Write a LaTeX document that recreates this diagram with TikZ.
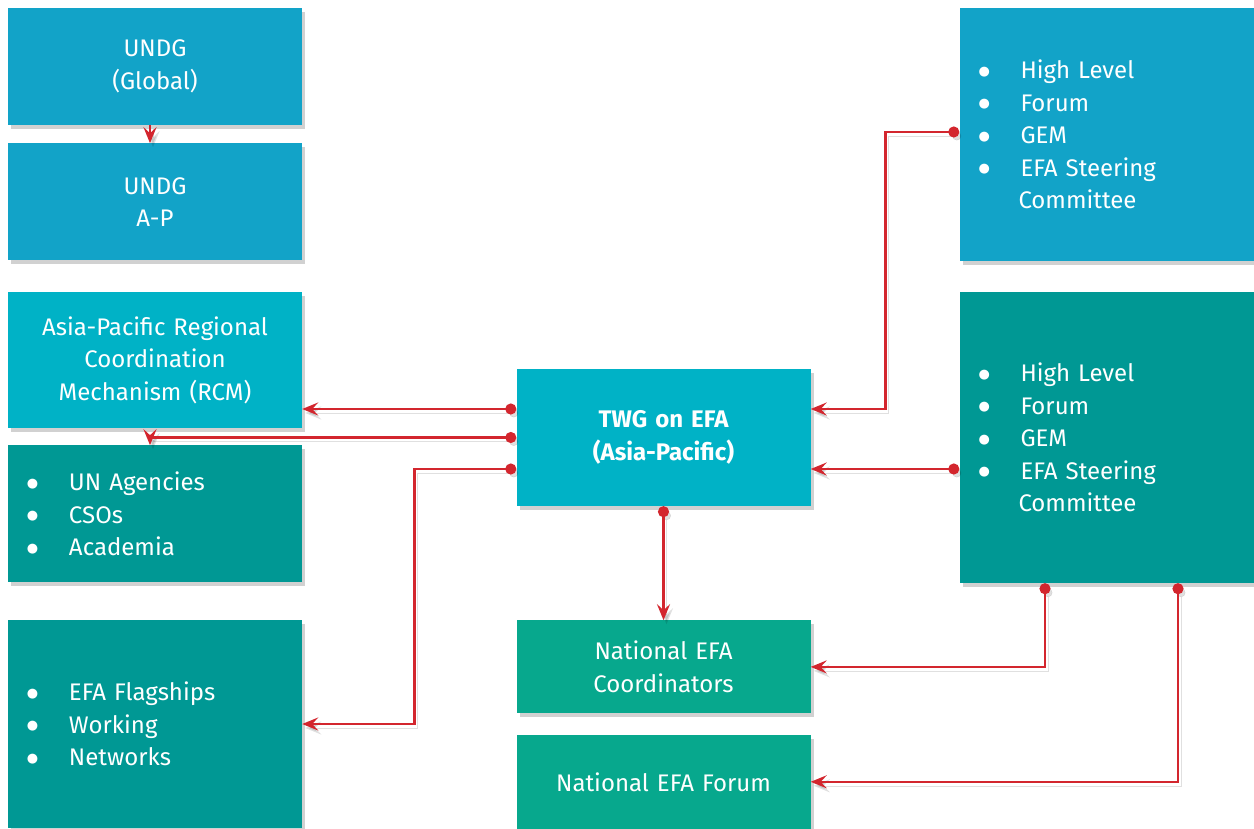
\documentclass[tikz,border=0pt]{standalone}
\usepackage{fontspec}
\setmainfont{Fira Sans}
\newfontfamily\dotfont{DejaVu Sans}
\usepackage{tikz}
\usetikzlibrary{arrows.meta, positioning, shadows}
\definecolor{undgblue}{HTML}{12A3C8}
\definecolor{twgcyan}{HTML}{00B2C6}
\definecolor{darkteal}{HTML}{009894}
\definecolor{natgreen}{HTML}{07A88D}
\definecolor{linkred}{HTML}{D3262E}
\newcommand{\itm}[1]{\makebox[42pt][l]{\raisebox{3.5pt}{\dotfont\fontsize{13}{13}\selectfont ●}}#1}

\begin{document}
\begin{tikzpicture}[x=1pt, y=-1pt, node distance=18pt,
    main/.style = {rectangle, minimum width=294pt, inner sep=0pt, text=white,
        font=\fontsize{24}{32.5}\selectfont,
        drop shadow={shadow xshift=3pt, shadow yshift=-4pt, fill=black, opacity=0.18}},
    mid/.style = {main, text width=280pt, align=center},
    list/.style = {main, text width=256pt, align=left},
    link/.style = {draw=linkred, line width=2.6pt, {Circle[length=11pt]}-{Stealth[length=16pt, width=13pt, inset=6pt]},
        preaction={draw=black, opacity=0.12, transform canvas={shift={(3pt,-4pt)}}}}]
    \useasboundingbox (0,0) rectangle (1254,828);

    \node[mid, fill=undgblue, minimum height=117pt] (global) at (155,66.5) {UNDG\\(Global)};
    \node[mid, fill=undgblue, minimum height=117pt] (undgap) [below=of global] {UNDG\\A-P};
    \node[mid, fill=twgcyan, minimum height=136pt] (rcm) at (155,360) {Asia-Pacific Regional\\Coordination\\Mechanism (RCM)};
    \node[list, fill=darkteal, minimum height=137pt] (agencies) [below=17pt of rcm] {\itm{UN Agencies}\\\itm{CSOs}\\\itm{Academia}};
    \node[list, fill=darkteal, minimum height=208pt] (flagships) at (155,724) {\itm{EFA Flagships}\\\itm{Working}\\\itm{Networks}};

    \node[mid, fill=twgcyan, minimum height=137pt, font=\fontsize{24}{32.5}\selectfont\bfseries] (twg) at (663.5,437.5) {TWG on EFA\\(Asia-Pacific)};
    \node[mid, fill=natgreen, minimum height=93pt] (coord) [below=114pt of twg] {National EFA\\Coordinators};
    \node[mid, fill=natgreen, minimum height=94pt] (forum) [below=21pt of coord] {National EFA Forum};

    \node[list, fill=undgblue, minimum height=253pt] (hlfa) at (1106.5,134.5) {\itm{High Level}\\\itm{Forum}\\\itm{GEM}\\\itm{EFA Steering}\\\hspace*{40pt}Committee};
    \node[list, fill=darkteal, minimum height=291pt] (hlfb) at (1106.5,437.5) {\itm{High Level}\\\itm{Forum}\\\itm{GEM}\\\itm{EFA Steering}\\\hspace*{40pt}Committee};

    \draw[link, {-Stealth[length=16pt, width=13pt, inset=6pt]}] ([xshift=-5pt]global.south) -- ([xshift=-5pt]undgap.north);

    \draw[link] ([yshift=28.5pt]twg.west) -- ([yshift=28.5pt]twg.west -| rcm.east);
    \draw[link] (twg.west) -| ([xshift=-5pt]agencies.north);
    \draw[link] ([yshift=-31.5pt]twg.west) -- ++(-102,0) |- (flagships.east);

    \draw[link] ([yshift=2.5pt]hlfa.west) -- ++(-74,0) |- ([yshift=28.5pt]twg.east);
    \draw[link] ([yshift=-31.5pt]hlfb.west) -- ([yshift=-31.5pt]twg.east);

    \draw[link] (twg.south) -- (coord.north);
    \draw[link] ([xshift=-61.5pt]hlfb.south) |- (coord.east);
    \draw[link] ([xshift=71.5pt]hlfb.south) |- (forum.east);
\end{tikzpicture}
\end{document}
